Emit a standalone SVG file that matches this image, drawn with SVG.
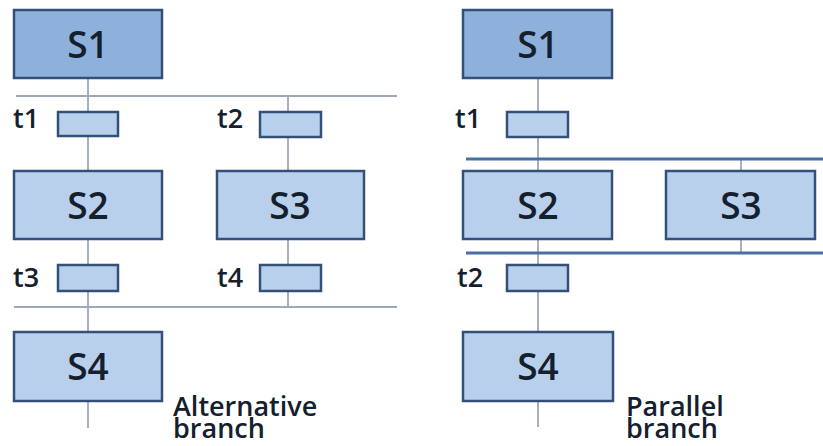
<svg xmlns="http://www.w3.org/2000/svg" width="823" height="446" viewBox="0 0 823 446">
<style>
.step{fill:#b9d0ec;stroke:#34507a;stroke-width:2.5}
.init{fill:#8eb1dc;stroke:#34507a;stroke-width:2.5}
.tr{fill:#b9d0ec;stroke:#34507a;stroke-width:2.5}
.sl{font-family:"Open Sans","Noto Sans",sans-serif;font-size:37px;font-weight:600;fill:#15202e;text-anchor:middle}
.tl{font-family:"Open Sans","Noto Sans",sans-serif;font-size:27px;font-weight:600;fill:#15202e}
.cap{font-family:"Open Sans","Noto Sans",sans-serif;font-size:27px;font-weight:600;fill:#15202e}
.wire{stroke:#9ea8b8;stroke-width:1.8;fill:none}
.par{stroke:#4a6fa3;stroke-width:3;fill:none}
</style>
<rect width="823" height="446" fill="#ffffff"/>
<g id="connectors">
<line class="wire" x1="16" y1="96" x2="397" y2="96"/>
<line class="wire" x1="14" y1="307" x2="397" y2="307"/>
<line class="wire" x1="88" y1="78" x2="88" y2="171"/>
<line class="wire" x1="88" y1="239" x2="88" y2="332"/>
<line class="wire" x1="88" y1="401" x2="88" y2="428"/>
<line class="wire" x1="288" y1="96" x2="288" y2="171"/>
<line class="wire" x1="288" y1="239" x2="288" y2="307"/>
<line class="wire" x1="538" y1="78" x2="538" y2="171"/>
<line class="wire" x1="538" y1="239" x2="538" y2="332"/>
<line class="wire" x1="538" y1="401" x2="538" y2="427"/>
<line class="wire" x1="741" y1="159" x2="741" y2="171"/>
<line class="wire" x1="741" y1="239" x2="741" y2="253"/>
<line class="par" x1="466" y1="159" x2="823" y2="159"/>
<line class="par" x1="466" y1="253" x2="823" y2="253"/>
</g>
<g id="L_S1"><rect class="init" x="14" y="10" width="148" height="68"/><text class="sl" x="88" y="58">S1</text></g>
<g id="L_t1"><rect class="tr" x="58" y="112" width="60" height="24"/><text class="tl" x="13" y="128">t1</text></g>
<g id="L_t2"><rect class="tr" x="260" y="112" width="61" height="25"/><text class="tl" x="217" y="128">t2</text></g>
<g id="L_S2"><rect class="step" x="14" y="171" width="148" height="68"/><text class="sl" x="88" y="219">S2</text></g>
<g id="L_S3"><rect class="step" x="217" y="171" width="147" height="68"/><text class="sl" x="290" y="219">S3</text></g>
<g id="L_t3"><rect class="tr" x="58" y="265" width="60" height="26"/><text class="tl" x="13" y="287">t3</text></g>
<g id="L_t4"><rect class="tr" x="260" y="265" width="61" height="26"/><text class="tl" x="217" y="287">t4</text></g>
<g id="L_S4"><rect class="step" x="14" y="332" width="148" height="69"/><text class="sl" x="88" y="380">S4</text></g>
<g id="L_caption"><text class="cap" x="173" y="416">Alternative</text><text class="cap" x="173" y="438">branch</text></g>
<g id="R_S1"><rect class="init" x="463" y="10" width="149" height="68"/><text class="sl" x="538" y="58">S1</text></g>
<g id="R_t1"><rect class="tr" x="507" y="112" width="61" height="25"/><text class="tl" x="455" y="128">t1</text></g>
<g id="R_S2"><rect class="step" x="463" y="171" width="149" height="68"/><text class="sl" x="538" y="219">S2</text></g>
<g id="R_S3"><rect class="step" x="666" y="171" width="149" height="68"/><text class="sl" x="741" y="219">S3</text></g>
<g id="R_t2"><rect class="tr" x="507" y="265" width="61" height="26"/><text class="tl" x="457" y="287">t2</text></g>
<g id="R_S4"><rect class="step" x="463" y="332" width="150" height="69"/><text class="sl" x="538" y="380">S4</text></g>
<g id="R_caption"><text class="cap" x="626" y="416">Parallel</text><text class="cap" x="626" y="438">branch</text></g>
</svg>
